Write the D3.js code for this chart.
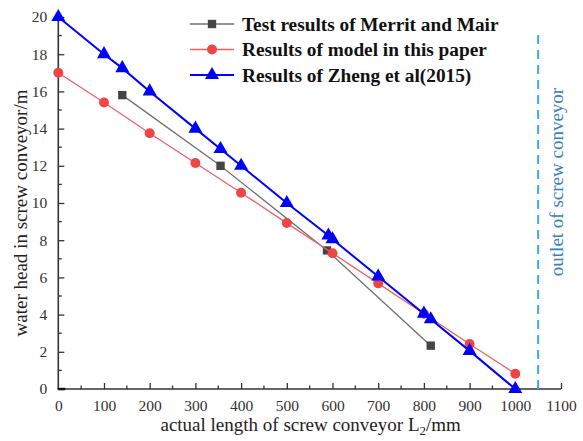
<!DOCTYPE html>
<html><head><meta charset="utf-8">
<script src="https://cdn.jsdelivr.net/npm/d3@7"></script>
<style>body{margin:0;background:#fff}svg{display:block}</style>
</head><body>
<script>
// ---- data ----
const merritX = [140, 355, 588, 815];
const merritY = [15.8, 12.0, 7.45, 2.33];
const modelX = [0, 100, 200, 300, 400, 500, 600, 700, 800, 900, 1000];
const modelY = [17.0, 15.4, 13.75, 12.15, 10.55, 8.92, 7.3, 5.68, 4.05, 2.42, 0.82];
const zhengX = [0, 100, 140, 200, 300, 355, 400, 500, 591, 600, 700, 800, 815, 900, 1000];
const zhengY = [20, 18, 17.25, 16, 14, 12.9, 12, 10, 8.25, 8.05, 6.05, 4.05, 3.75, 2.05, 0];
const seriesNames = ["Test results of Merrit and Mair", "Results of model in this paper", "Results of Zheng et al(2015)"];
const xTicks = [0, 100, 200, 300, 400, 500, 600, 700, 800, 900, 1000, 1100];
const yTicks = [0, 2, 4, 6, 8, 10, 12, 14, 16, 18, 20];
const outletX = 1050;
const outletLabel = "outlet of screw conveyor";

const W = 583, H = 441;
const svg = d3.select("body").append("svg").attr("width", W).attr("height", H);
const x = d3.scaleLinear().domain([0, 1100]).range([58.3, 561]);
const y = d3.scaleLinear().domain([0, 20]).range([389, 17]);
const serif = "'Liberation Serif','Times New Roman',serif";
const axisCol = "#333";

// axes
const xAxis = d3.axisBottom(x).tickValues(xTicks).tickSize(-6).tickPadding(11).tickFormat(d3.format("d"));
const gx = svg.append("g").attr("transform", `translate(0,${y(0)})`).call(xAxis);
const xMinor = d3.range(50, 1100, 100);
gx.selectAll(".minor").data(xMinor).enter().append("line").attr("class","minor")
  .attr("x1", d => x(d)).attr("x2", d => x(d)).attr("y1", 0).attr("y2", -3.5).attr("stroke", axisCol).attr("stroke-width", 1.3);

const yAxis = d3.axisLeft(y).tickValues(yTicks).tickSize(-6).tickPadding(11);
const gy = svg.append("g").attr("transform", `translate(${x(0)},0)`).call(yAxis);
const yMinor = d3.range(1, 20, 2);
gy.selectAll(".minor").data(yMinor).enter().append("line").attr("class","minor")
  .attr("y1", d => y(d)).attr("y2", d => y(d)).attr("x1", 0).attr("x2", 3.5).attr("stroke", axisCol).attr("stroke-width", 1.3);

[gx, gy].forEach(g => {
  g.select(".domain").attr("stroke", axisCol).attr("stroke-width", 1.6);
  g.selectAll(".tick line").attr("stroke", axisCol).attr("stroke-width", 1.3);
  g.selectAll(".tick text").attr("fill", axisCol).style("font-family", serif).style("font-size", "15.5px");
});
gx.select(".domain").attr("d", `M${x(0)-1},0H${x(1100)}`);
gy.select(".domain").attr("d", `M0,${y(0)}V${y(20)}`);
gx.selectAll(".tick").filter(d => d === 0).select("line").remove();
svg.append("line").attr("x1", x(0)).attr("x2", x(0) + 7).attr("y1", y(0)).attr("y2", y(0))
  .attr("stroke", "#111").attr("stroke-width", 2.4);

// axis titles
const xt = svg.append("text").attr("x", (x(0)+x(1100))/2 + 1).attr("y", 431).attr("text-anchor","middle")
  .style("font-family", serif).style("font-size","19px").attr("fill","#222");
xt.append("tspan").text("actual length of screw conveyor L");
xt.append("tspan").attr("dy", 4).style("font-size","13px").text("2");
xt.append("tspan").attr("dy", -4).text("/mm");

svg.append("text").attr("transform", `translate(27,${(y(0)+y(20))/2 + 10}) rotate(-90)`).attr("text-anchor","middle")
  .style("font-family", serif).style("font-size","19px").attr("fill","#222")
  .text("water head in screw conveyor/m");

// outlet dashed line
svg.append("line").attr("x1", x(outletX)).attr("x2", x(outletX)).attr("y1", 35).attr("y2", y(0))
  .attr("stroke", "#3fa6ea").attr("stroke-width", 2).attr("stroke-dasharray", "9,6");
svg.append("text").attr("transform", `translate(563,${182}) rotate(-90)`).attr("text-anchor","middle")
  .style("font-family", serif).style("font-size","19px").attr("fill","#3a80c0").text(outletLabel);

// series
const line = d3.line().x(d => x(d[0])).y(d => y(d[1]));
const mData = merritX.map((d,i) => [d, merritY[i]]);
const rData = modelX.map((d,i) => [d, modelY[i]]);
const zData = zhengX.map((d,i) => [d, zhengY[i]]);

const styles = [
  {data: mData, line: "#707070", mark: "#454545", lw: 1.3, sym: d3.symbolSquare, size: 70},
  {data: rData, line: "#f26060", mark: "#f04545", lw: 1.3, sym: d3.symbolCircle, size: 78},
  {data: zData, line: "#0000ff", mark: "#0000ff", lw: 2, sym: d3.symbolTriangle, size: 85}
];
styles.forEach(s => {
  svg.append("path").datum(s.data).attr("d", line).attr("fill","none").attr("stroke", s.line).attr("stroke-width", s.lw);
  svg.append("g").selectAll("path").data(s.data).enter().append("path")
    .attr("d", d3.symbol().type(s.sym).size(s.size))
    .attr("transform", d => `translate(${x(d[0])},${y(d[1])})`)
    .attr("fill", s.mark);
});

// legend
const legY = [24, 49.5, 75];
styles.forEach((s, i) => {
  const g = svg.append("g").attr("transform", `translate(0,${legY[i]})`);
  g.append("line").attr("x1", 190).attr("x2", 234).attr("y1", 0).attr("y2", 0).attr("stroke", s.line).attr("stroke-width", s.lw);
  g.append("path").attr("d", d3.symbol().type(s.sym).size(s.size)).attr("transform", "translate(212,0)").attr("fill", s.mark);
  g.append("text").attr("x", 242).attr("y", 6.5).style("font-family", serif).style("font-size","19.3px")
    .style("font-weight","bold").attr("fill","#111").text(seriesNames[i]);
});
</script>
</body></html>
